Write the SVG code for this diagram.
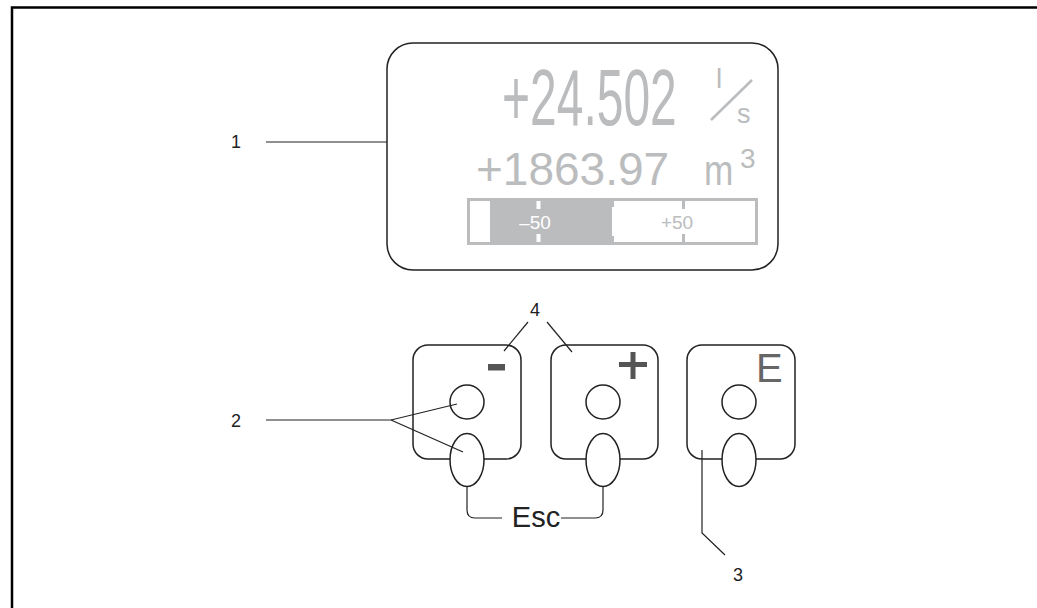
<svg xmlns="http://www.w3.org/2000/svg" width="1037" height="608" viewBox="0 0 1037 608">
<style>
.frame{fill:none;stroke:#000;stroke-width:2.5}
.ln{fill:none;stroke:#222;stroke-width:1.2}
.key{fill:#fff;stroke:#222;stroke-width:1.5}
.lbl{font-family:"Liberation Sans",Arial,sans-serif;font-size:18px;fill:#222}
.lcd{font-family:"Liberation Sans",Arial,sans-serif;fill:#bbbcbe}
.sym{fill:#555}
</style>
<rect width="1037" height="608" fill="#fff"/>
<path class="frame" d="M12,608 V7.5 H1037"/>
<g id="display">
<rect x="387" y="43" width="391" height="227" rx="26" ry="26" fill="#fff" stroke="#222" stroke-width="1.5"/>
<text class="lcd" transform="translate(502,125) scale(0.6,1)" x="0" y="0" font-size="80">+24.502</text>
<text class="lcd" x="716" y="88" font-size="28">l</text>
<line x1="711" y1="120" x2="752" y2="80" stroke="#bbbcbe" stroke-width="2.5"/>
<text class="lcd" x="737" y="123" font-size="27">s</text>
<text class="lcd" x="476" y="185" font-size="46">+1863.97</text>
<text class="lcd" transform="translate(704,185) scale(0.82,1)" x="0" y="0" font-size="43">m</text>
<text class="lcd" x="740" y="168" font-size="28">3</text>
<rect x="468.5" y="199.5" width="288" height="44" fill="#fff" stroke="#bbbcbe" stroke-width="3"/>
<rect x="490" y="201" width="122" height="41" fill="#bbbcbe"/>
<rect x="536.5" y="201" width="4" height="8" fill="#fff"/>
<rect x="536.5" y="234" width="4" height="8" fill="#fff"/>
<rect x="612" y="201" width="2" height="6" fill="#bbbcbe"/>
<rect x="612" y="236" width="2" height="6" fill="#bbbcbe"/>
<rect x="682" y="201" width="3" height="8" fill="#bbbcbe"/>
<rect x="682" y="234" width="3" height="8" fill="#bbbcbe"/>
<text x="535" y="229" font-family="Liberation Sans,Arial,sans-serif" font-size="19" fill="#fff" text-anchor="middle">–50</text>
<text class="lcd" x="677" y="229" font-size="19" text-anchor="middle">+50</text>
</g>
<g id="key-minus">
<rect class="key" x="413" y="345" width="108" height="114" rx="15"/>
<circle class="key" cx="467" cy="402" r="17"/>
<ellipse class="key" cx="467" cy="460" rx="17" ry="26.5"/>
<rect class="sym" x="488" y="364" width="17" height="6.5"/>
</g>
<g id="key-plus">
<rect class="key" x="551" y="345" width="107" height="114" rx="15"/>
<circle class="key" cx="603" cy="402" r="17"/>
<ellipse class="key" cx="603" cy="460" rx="17" ry="26.5"/>
<rect class="sym" x="619" y="362" width="28" height="5"/>
<rect class="sym" x="630.5" y="352" width="5" height="27"/>
</g>
<g id="key-enter">
<rect class="key" x="687" y="345" width="108" height="114" rx="15"/>
<circle class="key" cx="739" cy="402" r="17"/>
<ellipse class="key" cx="739" cy="460" rx="17" ry="26.5"/>
<text x="756" y="382" font-family="Liberation Sans,Arial,sans-serif" font-size="40" fill="#666">E</text>
</g>
<g id="connectors">
<line class="ln" x1="266" y1="142" x2="387" y2="142"/>
<polyline class="ln" points="266,420 391,420 457,404"/>
<line class="ln" x1="391" y1="420" x2="463" y2="452"/>
<line class="ln" x1="528" y1="322" x2="504" y2="351"/>
<line class="ln" x1="547" y1="322" x2="572" y2="352"/>
<polyline class="ln" points="702,450 702,533 725,555"/>
<path class="ln" d="M467,487 V510 Q467,518 475,518 H502"/>
<path class="ln" d="M561,518 H595 Q603,518 603,510 V487"/>
</g>
<g id="labels">
<text class="lbl" x="231" y="148">1</text>
<text class="lbl" x="231" y="427">2</text>
<text class="lbl" x="733" y="581">3</text>
<text class="lbl" x="530" y="316">4</text>
<text x="536" y="527" font-family="Liberation Sans,Arial,sans-serif" font-size="29" fill="#222" text-anchor="middle">Esc</text>
</g>
</svg>
